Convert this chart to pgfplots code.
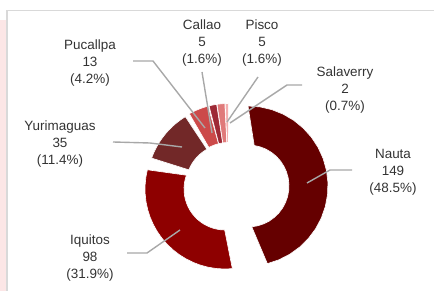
\documentclass[border=0pt]{standalone}
\usepackage{pgfplots}
\pgfplotsset{compat=1.18}
\usepackage{fontspec}
\setmainfont{Liberation Sans}
\definecolor{cNauta}{HTML}{650000}
\definecolor{cIquitos}{HTML}{8E0000}
\definecolor{cYuri}{HTML}{722828}
\definecolor{cPuca}{HTML}{CC4A4A}
\definecolor{cCallao}{HTML}{9E2A36}
\definecolor{cPisco}{HTML}{E07A7A}
\definecolor{cSala}{HTML}{F4B0B0}
\definecolor{cLead}{HTML}{A8A8A8}
\definecolor{cText}{HTML}{333333}
\definecolor{cFrame}{HTML}{D9D9D9}
\definecolor{cPink}{HTML}{FCE6E6}
% slice: cx, cy, start angle, end angle, colour (outer radius 80, inner 41)
\newcommand\slice[5]{%
  \addplot[fill=#5, draw=white, line width=0.6pt, variable=\t,
    samples at={0,0.05,...,1,1.0001,1.05,1.1,...,2}]
  ({#1+(\t<1.00005?80:41)*cos(\t<1.00005?(#3+(#4-#3)*\t):(#4-(#4-#3)*(\t-1)))},
   {#2+(\t<1.00005?80:41)*sin(\t<1.00005?(#3+(#4-#3)*\t):(#4-(#4-#3)*(\t-1)))}) -- cycle;}
\begin{document}
\begin{tikzpicture}
% values: Nauta 149, Iquitos 98, Yurimaguas 35, Pucallpa 13, Callao 5, Pisco 5, Salaverry 2 (total 307)
\pgfmathsetmacro\aA{90}
\pgfmathsetmacro\aB{\aA-149/307*360}
\pgfmathsetmacro\aC{\aB-98/307*360}
\pgfmathsetmacro\aD{\aC-35/307*360}
\pgfmathsetmacro\aE{\aD-13/307*360}
\pgfmathsetmacro\aF{\aE-5/307*360}
\pgfmathsetmacro\aG{\aF-5/307*360}
\pgfmathsetmacro\aH{\aG-2/307*360}
\begin{axis}[width=434bp, height=291bp, scale only axis, hide axis,
  xmin=0, xmax=434, ymin=0, ymax=291, clip=false]
\fill[cPink] (axis cs:0,0) rectangle (axis cs:5.5,271);
\draw[cFrame, line width=1.3pt] (axis cs:7,0) -- (axis cs:7,280.5) -- (axis cs:434,280.5);
\slice{248}{105}{\aA}{\aB}{cNauta}
\slice{225}{102}{\aB}{\aC}{cIquitos}
\slice{227}{106}{\aC}{\aD}{cYuri}
\slice{228.5}{107.5}{\aD}{\aE}{cPuca}
\slice{228.5}{107.5}{\aE}{\aF}{cCallao}
\slice{228.5}{107.5}{\aF}{\aG}{cPisco}
\slice{228.5}{107.5}{\aG}{\aH}{cSala}
% leader lines
\addplot[cLead, line width=1.4pt] coordinates {(307,108) (330,121) (352,121)};
\addplot[cLead, line width=1.4pt] coordinates {(180,61) (147,38) (127,38)};
\addplot[cLead, line width=1.4pt] coordinates {(182,144) (150,148) (113,149)};
\addplot[cLead, line width=1.4pt] coordinates {(205,163) (153,230) (133,230)};
\addplot[cLead, line width=1.4pt] coordinates {(212,158) (202,219)};
\addplot[cLead, line width=1.4pt] coordinates {(227,169) (258,214)};
\addplot[cLead, line width=1.4pt] coordinates {(230,168) (287,206) (302,206)};
% labels
\begin{scope}[every node/.style={align=center, text=cText, inner sep=0pt,
   font=\fontsize{13.5}{17}\selectfont}]
\node at (axis cs:393,119) {Nauta\\149\\(48.5\%)};
\node at (axis cs:90,33) {Iquitos\\98\\(31.9\%)};
\node at (axis cs:60,147) {Yurimaguas\\35\\(11.4\%)};
\node at (axis cs:90,228) {Pucallpa\\13\\(4.2\%)};
\node at (axis cs:202,248) {Callao\\5\\(1.6\%)};
\node at (axis cs:262,248) {Pisco\\5\\(1.6\%)};
\node at (axis cs:345,201) {Salaverry\\2\\(0.7\%)};
\end{scope}
\end{axis}
\pgfresetboundingbox
\path[use as bounding box] (current axis.south west) rectangle (current axis.north east);
\end{tikzpicture}
\end{document}
